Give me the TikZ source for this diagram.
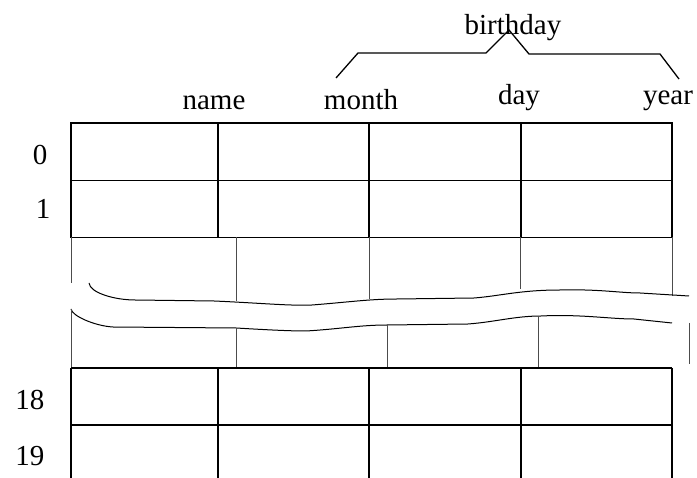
\documentclass[tikz,border=0pt]{standalone}
\usepackage{fontspec}
\setmainfont{Liberation Serif}
\begin{document}
\begin{tikzpicture}[x=1pt,y=-1pt,
    lbl/.style={inner sep=0pt,anchor=base,font=\fontsize{29}{34}\selectfont},
    grid/.style={line width=1.8pt},
    cut/.style={line width=1pt,draw=black!70},
    wave/.style={line width=1pt}]
  \useasboundingbox (0,0) rectangle (697,478);

  % field names
  \node[lbl] (name) at (214,110){name};
  \node[lbl] (month) at (361,110){month};
  \node[lbl] (day) at (519,105){day};
  \node[lbl] (year) at (668,105){year};
  \node[lbl] (bday) at (513,35){birthday};

  % index labels
  \node[lbl] (r0) at (40,165){0};
  \node[lbl] (r1) at (43,219){1};
  \node[lbl] (r18) at (30,410){18};
  \node[lbl] (r19) at (30,466){19};

  % brace over month, day, year
  \draw[line width=1.3pt] (336,78) -- (358,53) -- (486,53) -- (509,30) -- (529,54) -- (660,54) -- (679,79);

  % rows 0 and 1
  \draw[grid] (71,123) rectangle (672,237.5);
  \draw[grid] (71,180.5) -- (672,180.5);
  \foreach \x in {218,369,521}
    \draw[grid] (\x,123) -- (\x,237.5);

  % broken part, upper
  \draw[cut] (71,237.5) -- (71,283);
  \draw[cut] (236,237.5) -- (236,301);
  \draw[cut] (369,237.5) -- (369,299);
  \draw[cut] (520,237.5) -- (520,289);
  \draw[cut] (672,237.5) -- (672,296);
  \draw[wave] (89,283) .. controls (90,293) and (115,300) .. (135,300)
    -- (214,301) .. controls (260,303) and (290,306) .. (312,305)
    .. controls (350,302) and (370,299) .. (397,299)
    -- (474,298) .. controls (500,296) and (520,290) .. (560,290)
    .. controls (600,289) and (620,293) .. (640,293) -- (689,296);

  % broken part, lower
  \draw[wave] (71,309) .. controls (72,316) and (95,326) .. (113,327)
    -- (236,328) .. controls (270,330) and (290,331) .. (306,331)
    .. controls (340,329) and (360,325) .. (387,325)
    -- (468,324) .. controls (495,322) and (515,316) .. (541,316)
    .. controls (580,314) and (610,319) .. (634,319) -- (672,323);
  \draw[cut] (71,309) -- (71,368);
  \draw[cut] (236,328) -- (236,368);
  \draw[cut] (387,325) -- (387,368);
  \draw[cut] (538,316) -- (538,368);
  \draw[cut] (689,323) -- (689,364);

  % rows 18 and 19
  \draw[grid] (71,368) -- (672,368);
  \draw[grid] (71,425) -- (672,425);
  \foreach \x in {71,218,369,521,672}
    \draw[grid] (\x,368) -- (\x,478);
\end{tikzpicture}
\end{document}
